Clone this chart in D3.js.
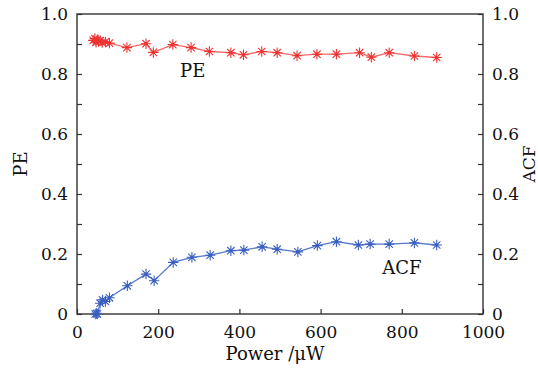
<!DOCTYPE html>
<html>
<head>
<meta charset="utf-8">
<script src="https://cdn.jsdelivr.net/npm/d3@7"></script>
<style>
    body { margin: 0; background: #fff; }
    svg { display: block; }
    text { font-family: "DejaVu Serif", "Liberation Serif", serif; fill: #111; }
</style>
</head>
<body>
<div id="chart"></div>
<script>
// PE series (power in uW, value)
const pePower = [40, 44, 47, 50, 53, 57, 62, 70, 80, 123, 170, 188, 236, 281, 326, 379, 410, 455, 493, 542, 591, 639, 696, 725, 769, 831, 886];
const peValue = [0.912, 0.918, 0.906, 0.914, 0.908, 0.911, 0.905, 0.907, 0.903, 0.888, 0.901, 0.872, 0.898, 0.888, 0.875, 0.871, 0.864, 0.875, 0.871, 0.861, 0.866, 0.866, 0.871, 0.856, 0.871, 0.860, 0.855];

// ACF series
const acfPower = [45, 48, 50, 57, 63, 70, 80, 124, 170, 190, 237, 283, 328, 379, 411, 456, 493, 544, 592, 639, 693, 722, 769, 831, 886];
const acfValue = [0.0, 0.002, 0.0, 0.036, 0.047, 0.042, 0.054, 0.094, 0.133, 0.111, 0.172, 0.189, 0.196, 0.211, 0.213, 0.224, 0.216, 0.207, 0.228, 0.241, 0.230, 0.233, 0.233, 0.237, 0.230];

const xTicks = [0, 200, 400, 600, 800, 1000];
const yTicks = [0, 0.2, 0.4, 0.6, 0.8, 1.0];
const yMinorTicks = [0.1, 0.3, 0.5, 0.7, 0.9];

const W = 538, H = 368;
const margin = {top: 14, right: 55, bottom: 54, left: 77};
const width = W - margin.left - margin.right;
const height = H - margin.top - margin.bottom;

const svg = d3.select("#chart")
    .append("svg")
    .attr("width", W)
    .attr("height", H);

const g = svg.append("g")
    .attr("transform", `translate(${margin.left},${margin.top})`);

const x = d3.scaleLinear().domain([0, 1000]).range([0, width]);
const y = d3.scaleLinear().domain([0, 1]).range([height, 0]);

const fmt = d => d === 0 ? "0" : d3.format(".1f")(d);
const axisColor = "#333";

// Bottom axis, ticks point inward
g.append("g")
    .attr("transform", `translate(0,${height})`)
    .call(d3.axisBottom(x).tickValues(xTicks).tickSize(-5).tickPadding(12).tickFormat(d3.format("d")))
    .call(a => a.select(".domain").remove())
    .call(a => a.selectAll("line").attr("stroke", axisColor).attr("stroke-width", 1.2))
    .call(a => a.selectAll("text").attr("font-size", 17).attr("font-family", "DejaVu Serif"));

// Left axis
g.append("g")
    .call(d3.axisLeft(y).tickValues(yTicks.concat(yMinorTicks)).tickSize(-5).tickPadding(9)
        .tickFormat(d => yTicks.includes(d) ? fmt(d) : ""))
    .call(a => a.select(".domain").remove())
    .call(a => a.selectAll("line").attr("stroke", axisColor).attr("stroke-width", 1.2))
    .call(a => a.selectAll("text").attr("font-size", 17).attr("font-family", "DejaVu Serif"));

// Right axis
g.append("g")
    .attr("transform", `translate(${width},0)`)
    .call(d3.axisRight(y).tickValues(yTicks.concat(yMinorTicks)).tickSize(-5).tickPadding(9)
        .tickFormat(d => yTicks.includes(d) ? fmt(d) : ""))
    .call(a => a.select(".domain").remove())
    .call(a => a.selectAll("line").attr("stroke", axisColor).attr("stroke-width", 1.2))
    .call(a => a.selectAll("text").attr("font-size", 17).attr("font-family", "DejaVu Serif"));

// Frame
g.append("rect")
    .attr("width", width)
    .attr("height", height)
    .attr("fill", "none")
    .attr("stroke", axisColor)
    .attr("stroke-width", 1.4);

// Asterisk marker
const star = d3.symbol().type({
    draw(ctx, size) {
        const r = Math.sqrt(size) / 2;
        for (let k = 0; k < 4; k++) {
            const a = k * Math.PI / 4;
            ctx.moveTo(-r * Math.cos(a), -r * Math.sin(a));
            ctx.lineTo(r * Math.cos(a), r * Math.sin(a));
        }
    }
}).size(110);

function drawSeries(px, py, lineColor, markColor) {
    const pts = px.map((p, i) => ({p: p, v: py[i]}));
    const line = d3.line().x(d => x(d.p)).y(d => y(d.v));
    g.append("path")
        .datum(pts)
        .attr("d", line)
        .attr("fill", "none")
        .attr("stroke", lineColor)
        .attr("stroke-width", 1.3);
    const m = g.selectAll(null)
        .data(pts)
        .enter().append("g")
        .attr("transform", d => `translate(${x(d.p)},${y(d.v)})`);
    m.append("path")
        .attr("d", star)
        .attr("fill", "none")
        .attr("stroke", markColor)
        .attr("stroke-width", 1.1);
    m.append("circle")
        .attr("r", 1.6)
        .attr("fill", markColor);
}

drawSeries(pePower, peValue, "#f46a6a", "#ee3333");
drawSeries(acfPower, acfValue, "#5578cc", "#3a5fc0");

// Series labels
g.append("text")
    .attr("x", x(285))
    .attr("y", y(0.79))
    .attr("text-anchor", "middle")
    .attr("font-size", 18)
    .text("PE");

g.append("text")
    .attr("x", x(800))
    .attr("y", y(0.135))
    .attr("text-anchor", "middle")
    .attr("font-size", 18)
    .text("ACF");

// Axis titles
svg.append("text")
    .attr("transform", `translate(27,${margin.top + height / 2}) rotate(-90)`)
    .attr("text-anchor", "middle")
    .attr("font-size", 18)
    .text("PE");

svg.append("text")
    .attr("transform", `translate(535,${margin.top + height / 2}) rotate(-90)`)
    .attr("text-anchor", "middle")
    .attr("font-size", 17)
    .text("ACF");

svg.append("text")
    .attr("x", margin.left + width / 2 - 5)
    .attr("y", 360)
    .attr("text-anchor", "middle")
    .attr("font-size", 18)
    .text("Power /μW");
</script>
</body>
</html>
